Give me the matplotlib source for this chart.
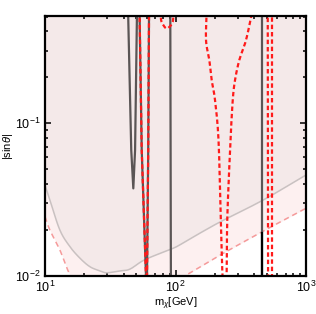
"""
Exclusion plot for the mixing angle versus dark matter mass.
"""

import matplotlib
matplotlib.use("Agg")
import matplotlib.pyplot as plt
import numpy as np


# upper shaded boundary (gray solid)
bound_mass = [10, 10.9, 13.0, 15.5, 18.5, 22.1, 26.4, 29.7, 37.6, 44.8,
              58.3, 92.5, 108, 154, 226, 471, 1000]
bound_sin = [0.0394, 0.0315, 0.0200, 0.0156, 0.0131, 0.0115, 0.0108,
             0.0105, 0.0108, 0.0111, 0.0128, 0.0150, 0.0160, 0.0191,
             0.0229, 0.0315, 0.0459]

# lower shaded boundary (light red dashed)
lower_mass = [10, 10.9, 13.0, 15.5, 18.5, 22.1, 30, 45, 60, 92, 108, 122,
              226, 471, 1000]
lower_sin = [0.0245, 0.0200, 0.0148, 0.0102, 0.0081, 0.0071, 0.0065,
             0.0068, 0.0080, 0.0093, 0.0099, 0.0102, 0.0139, 0.0197,
             0.0278]

# gray solid contours
gray_a_mass = [43.3, 45.8, 47.5, 49.0, 50.7]
gray_a_sin = [0.55, 0.0668, 0.0375, 0.0668, 0.55]

gray_b_mass = [53.0, 55.1, 59.4, 60.0, 60.5, 61.8, 62.7]
gray_b_sin = [0.55, 0.0668, 0.0100, 0.0090, 0.0100, 0.0668, 0.55]

gray_c_mass = [91.2, 92.2]
gray_c_sin = [0.55, 0.009]

gray_d_mass = [462, 462]
gray_d_sin = [0.55, 0.009]

black_d_mass = [462, 462]
black_d_sin = [0.0191, 0.009]

# red dashed contours
red_loop_mass = [77.4, 77.6, 81.6, 85.3, 89.1, 95.2, 96.6]
red_loop_sin = [0.55, 0.474, 0.434, 0.419, 0.426, 0.462, 0.55]

red_v_mass = [173.4, 171.3, 181.6, 189.4, 200.8, 213.6, 222.1, 229.2,
              237, 246.0, 249.5, 264.0, 274.5, 285.8, 308.3, 346.9, 389.0]
red_v_sin = [0.55, 0.351, 0.260, 0.192, 0.142, 0.0777, 0.0244, 0.0100,
             0.008, 0.0100, 0.0244, 0.0777, 0.142, 0.192, 0.260, 0.351,
             0.55]

red_e_mass = [509, 512]
red_e_sin = [0.55, 0.009]

red_f_mass = [552, 552]
red_f_sin = [0.55, 0.009]

plt.rcParams["font.family"] = ["Liberation Sans", "DejaVu Sans"]
plt.rcParams["mathtext.fontset"] = "custom"
plt.rcParams["mathtext.rm"] = "Liberation Sans"
plt.rcParams["mathtext.it"] = "Liberation Sans:italic"


def smooth(xs, ys, steps=12):
    """
    Catmull-Rom pass through the points in log-log space.
    """

    px = np.log10(xs)
    py = np.log10(ys)
    px = np.concatenate([[2 * px[0] - px[1]], px, [2 * px[-1] - px[-2]]])
    py = np.concatenate([[2 * py[0] - py[1]], py, [2 * py[-1] - py[-2]]])

    out_x = []
    out_y = []
    t = np.linspace(0, 1, steps, endpoint=False)

    for i in range(1, len(px) - 2):
        for p, out in ((px, out_x), (py, out_y)):
            p0, p1, p2, p3 = p[i - 1], p[i], p[i + 1], p[i + 2]
            out.extend(
                0.5 * (2 * p1 + (p2 - p0) * t
                       + (2 * p0 - 5 * p1 + 4 * p2 - p3) * t ** 2
                       + (3 * p1 - p0 - 3 * p2 + p3) * t ** 3)
            )

    out_x.append(px[-2])
    out_y.append(py[-2])

    return 10 ** np.array(out_x), 10 ** np.array(out_y)


def main():
    fig = plt.figure(figsize=(3.16, 3.14), dpi=100)
    ax = fig.add_axes([0.1424, 0.121, 0.826, 0.828])

    ax.set_xscale("log")
    ax.set_yscale("log")
    ax.set_xlim(10, 1000)
    ax.set_ylim(0.01, 0.505)

    upper_x, upper_y = smooth(bound_mass, bound_sin)
    lower_x, lower_y = smooth(lower_mass, lower_sin)

    # shaded regions
    grid = np.logspace(1, 3, 400)
    upper = 10 ** np.interp(np.log10(grid), np.log10(upper_x),
                            np.log10(upper_y))
    lower = 10 ** np.interp(np.log10(grid), np.log10(lower_x),
                            np.log10(lower_y))
    ax.fill_between(grid, lower, upper, color="#fdf0f0", linewidth=0)
    ax.fill_between(grid, upper, 1.0, color="#f4e9e9", linewidth=0)

    ax.plot(upper_x, upper_y, color="#c9c1c1", linewidth=1.1)
    ax.plot(lower_x, lower_y, color="#f59a9a", linewidth=1.1,
            dashes=(3.5, 2.5))

    gray = "#5a5555"
    for xs, ys in [(gray_a_mass, gray_a_sin), (gray_b_mass, gray_b_sin),
                   (gray_c_mass, gray_c_sin), (gray_d_mass, gray_d_sin)]:
        ax.plot(xs, ys, color=gray, linewidth=1.6)

    ax.plot(black_d_mass, black_d_sin, color="black", linewidth=1.6)

    ax.plot(gray_b_mass, gray_b_sin, color="#ff1a1a", linewidth=1.6,
            dashes=(2.0, 1.3))

    for xs, ys in [(red_loop_mass, red_loop_sin), (red_v_mass, red_v_sin)]:
        sx, sy = smooth(xs, ys, steps=8)
        ax.plot(sx, sy, color="#ff1a1a", linewidth=1.6, dashes=(2.0, 1.3))

    for xs, ys in [(red_e_mass, red_e_sin), (red_f_mass, red_f_sin)]:
        ax.plot(xs, ys, color="#ff1a1a", linewidth=1.6, dashes=(2.0, 1.3))

    ax.tick_params(which="both", direction="in", top=True, right=True,
                   labelsize=9, width=1.1, pad=3)
    ax.tick_params(which="major", length=4.5)
    ax.tick_params(which="minor", length=2.5)

    for spine in ax.spines.values():
        spine.set_linewidth(1.6)

    ax.set_xlabel(r"m$_\chi$[GeV]", fontsize=8)
    ax.set_ylabel(r"|sin$\theta$|", fontsize=8)
    ax.xaxis.set_label_coords(0.5, -0.077)
    ax.yaxis.set_label_coords(-0.115, 0.5)

    fig.savefig("out.png", dpi=100)
    plt.close(fig)


if __name__ == "__main__":
    main()
